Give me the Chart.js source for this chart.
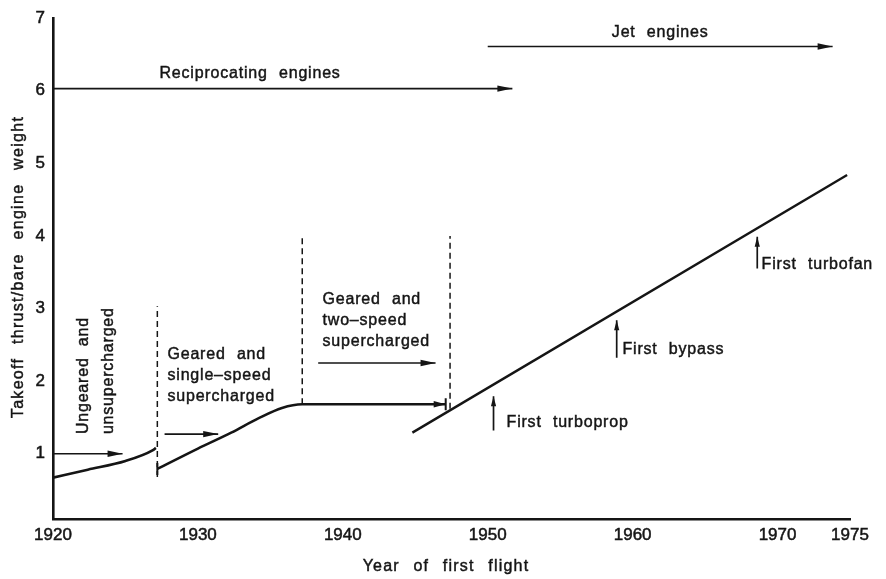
<!DOCTYPE html>
<html>
<head>
<meta charset="utf-8">
<script src="https://cdn.jsdelivr.net/npm/chart.js@4.4.1/dist/chart.umd.min.js"></script>
<style>
  html, body { margin: 0; padding: 0; background: #fff; }
</style>
</head>
<body>
<canvas id="chart" width="886" height="579"></canvas>
<script>
// ===== DATA =====
const xTicks = [1920, 1930, 1940, 1950, 1960, 1970, 1975];
const yTicks = [1, 2, 3, 4, 5, 6, 7];

const ungearedYears = [1920, 1922.4, 1925, 1926.9, 1927.1];
const ungearedRatio = [0.67, 0.78, 0.90, 1.05, 1.08];

const gearedYears = [1927.2, 1930, 1932.3, 1934.2, 1935.8, 1937.2, 1947.1];
const gearedRatio = [0.79, 1.07, 1.29, 1.49, 1.63, 1.68, 1.68];

const jetYears = [1944.8, 1974.8];
const jetRatio = [1.29, 4.84];

// dashed dividers between engine stages
const dividerYears = [1927.2, 1937.2, 1947.4];
const dividerLow   = [0.68, 1.68, 1.62];
const dividerHigh  = [3.03, 4.0, 4.0];

// horizontal arrows: start year, end year, level
const eraStart  = [1920, 1950.0];
const eraEnd    = [1951.7, 1973.8];
const eraLevel  = [6.03, 6.61];
const eraLabels = ['Reciprocating engines', 'Jet engines'];

const stageStart = [1920, 1927.7, 1938.3];
const stageEnd   = [1924.8, 1931.4, 1946.4];
const stageLevel = [1.0, 1.27, 2.25];

// vertical "first ..." arrows
const milestoneYears  = [1950.4, 1958.9, 1968.6];
const milestoneFrom   = [1.32, 2.32, 3.55];
const milestoneTo     = [1.79, 2.84, 3.99];
const milestoneLabels = ['First turboprop', 'First bypass', 'First turbofan'];

const INK  = '#151515';
const FONT = '"Liberation Sans", Arial, sans-serif';

const pts = (xs, ys) => xs.map((x, i) => ({ x, y: ys[i] }));

// ===== DATASETS =====
const datasets = [
  { data: pts(ungearedYears, ungearedRatio), borderWidth: 2.6, cubicInterpolationMode: 'monotone' },
  { data: pts(gearedYears, gearedRatio),     borderWidth: 2.6, cubicInterpolationMode: 'monotone' },
  { data: pts(jetYears, jetRatio),           borderWidth: 2.4 },
];

dividerYears.forEach((yr, i) => datasets.push({
  data: [{ x: yr, y: dividerLow[i] }, { x: yr, y: dividerHigh[i] }],
  borderWidth: 1.5, borderDash: [6, 4]
}));

eraStart.forEach((x0, i) => datasets.push({
  data: [{ x: x0, y: eraLevel[i] }, { x: eraEnd[i], y: eraLevel[i] }],
  borderWidth: 1.6, arrow: true
}));

stageStart.forEach((x0, i) => datasets.push({
  data: [{ x: x0, y: stageLevel[i] }, { x: stageEnd[i], y: stageLevel[i] }],
  borderWidth: 1.6, arrow: true
}));

milestoneYears.forEach((yr, i) => datasets.push({
  data: [{ x: yr, y: milestoneFrom[i] }, { x: yr, y: milestoneTo[i] }],
  borderWidth: 1.7, arrow: true, headLen: 10, headW: 2.6
}));

// little end bars: start of geared curve, end of flat part (with arrowhead)
const gLast = gearedYears.length - 1;
datasets.push({
  data: [{ x: gearedYears[0], y: gearedRatio[0] }, { x: gearedYears[gLast], y: gearedRatio[gLast] }],
  showLine: false, pointStyle: 'line', rotation: 90, pointRadius: 6, pointBorderWidth: 2
});
datasets.push({
  data: [{ x: gearedYears[gLast - 1], y: gearedRatio[gLast] }, { x: gearedYears[gLast], y: gearedRatio[gLast] }],
  borderWidth: 0, arrow: true, headLen: 12
});

datasets.forEach(d => {
  d.borderColor = INK;
  d.backgroundColor = INK;
  if (d.pointRadius === undefined) d.pointRadius = 0;
  d.fill = false;
});

// ===== TEXT NOTES (data coords) =====
const notes = [
  { lines: [eraLabels[0]], x: 1933.6, y: 6.23, align: 'center' },
  { lines: [eraLabels[1]], x: 1961.9, y: 6.80, align: 'center' },
  { lines: ['Geared and', 'single\u2013speed', 'supercharged'], x: 1927.9, y: 2.36, align: 'left' },
  { lines: ['Geared and', 'two\u2013speed', 'supercharged'], x: 1938.6, y: 3.12, align: 'left' },
  { lines: [milestoneLabels[0]], x: 1951.3, y: 1.43, align: 'left' },
  { lines: [milestoneLabels[1]], x: 1959.3, y: 2.43, align: 'left' },
  { lines: [milestoneLabels[2]], x: 1968.9, y: 3.60, align: 'left' },
];

// text with a hairline stroke so it reads like the printed figure
function inkText(ctx, t, x, y) {
  ctx.fillText(t, x, y);
  ctx.strokeText(t, x, y);
}

const notesPlugin = {
  id: 'notes',
  afterDatasetsDraw(chart) {
    const { ctx, scales: { x, y } } = chart;
    ctx.save();

    // arrowheads
    chart.data.datasets.forEach(d => {
      if (!d.arrow) return;
      const a = d.data[0], b = d.data[d.data.length - 1];
      const x0 = x.getPixelForValue(a.x), y0 = y.getPixelForValue(a.y);
      const x1 = x.getPixelForValue(b.x), y1 = y.getPixelForValue(b.y);
      const ang = Math.atan2(y1 - y0, x1 - x0);
      const len = d.headLen || 15, w = d.headW || 3.2;
      ctx.fillStyle = INK;
      ctx.beginPath();
      ctx.moveTo(x1, y1);
      ctx.lineTo(x1 - len * Math.cos(ang) - w * Math.sin(ang), y1 - len * Math.sin(ang) + w * Math.cos(ang));
      ctx.lineTo(x1 - len * Math.cos(ang) + w * Math.sin(ang), y1 - len * Math.sin(ang) - w * Math.cos(ang));
      ctx.closePath();
      ctx.fill();
    });

    ctx.fillStyle = INK;
    ctx.strokeStyle = INK;
    ctx.lineWidth = 0.45;
    ctx.font = `16px ${FONT}`;
    ctx.letterSpacing = '0.8px';
    ctx.wordSpacing = '6px';
    ctx.textBaseline = 'middle';

    notes.forEach(n => {
      ctx.textAlign = n.align;
      const px = x.getPixelForValue(n.x);
      const py = y.getPixelForValue(n.y);
      n.lines.forEach((t, i) => inkText(ctx, t, px, py + i * 21));
    });

    // rotated stage label
    ctx.save();
    ctx.translate(x.getPixelForValue(1922.1), y.getPixelForValue(1.27));
    ctx.rotate(-Math.PI / 2);
    ctx.textAlign = 'left';
    inkText(ctx, 'Ungeared and', 0, 0);
    inkText(ctx, 'unsupercharged', 0, 25);
    ctx.restore();

    // axis titles
    ctx.textAlign = 'center';
    ctx.letterSpacing = '1.2px';
    ctx.wordSpacing = '8px';
    inkText(ctx, 'Year of first flight', 446, 567);
    ctx.save();
    ctx.translate(19, 267);
    ctx.rotate(-Math.PI / 2);
    ctx.letterSpacing = '1.3px';
    inkText(ctx, 'Takeoff thrust/bare engine weight', 0, 0);
    ctx.restore();

    ctx.restore();
  }
};

// ===== CHART =====
new Chart(document.getElementById('chart'), {
  type: 'line',
  data: { datasets },
  plugins: [notesPlugin],
  options: {
    responsive: false,
    animation: false,
    events: [],
    layout: { padding: { left: 0, top: 13, right: 36, bottom: 0 } },
    plugins: { legend: { display: false }, tooltip: { enabled: false } },
    elements: { line: { tension: 0 } },
    scales: {
      x: {
        type: 'linear', min: 1920, max: 1975,
        afterBuildTicks: s => { s.ticks = xTicks.map(v => ({ value: v })); },
        afterFit: s => { s.height = 60; },
        grid: { display: false, drawTicks: false },
        border: { display: true, color: INK, width: 2.6 },
        ticks: { color: INK, padding: 6, maxRotation: 0, autoSkip: false,
          textStrokeColor: INK, textStrokeWidth: 0.5,
          font: { family: FONT, size: 17 }, callback: v => String(v) }
      },
      y: {
        type: 'linear', min: 0.1, max: 7,
        afterBuildTicks: s => { s.ticks = yTicks.map(v => ({ value: v })); },
        afterFit: s => { s.width = 53; },
        grid: { display: false, drawTicks: false },
        border: { display: true, color: INK, width: 2.6 },
        ticks: { color: INK, padding: 8, textStrokeColor: INK, textStrokeWidth: 0.5,
          font: { family: FONT, size: 17 } }
      }
    }
  }
});
</script>
</body>
</html>
